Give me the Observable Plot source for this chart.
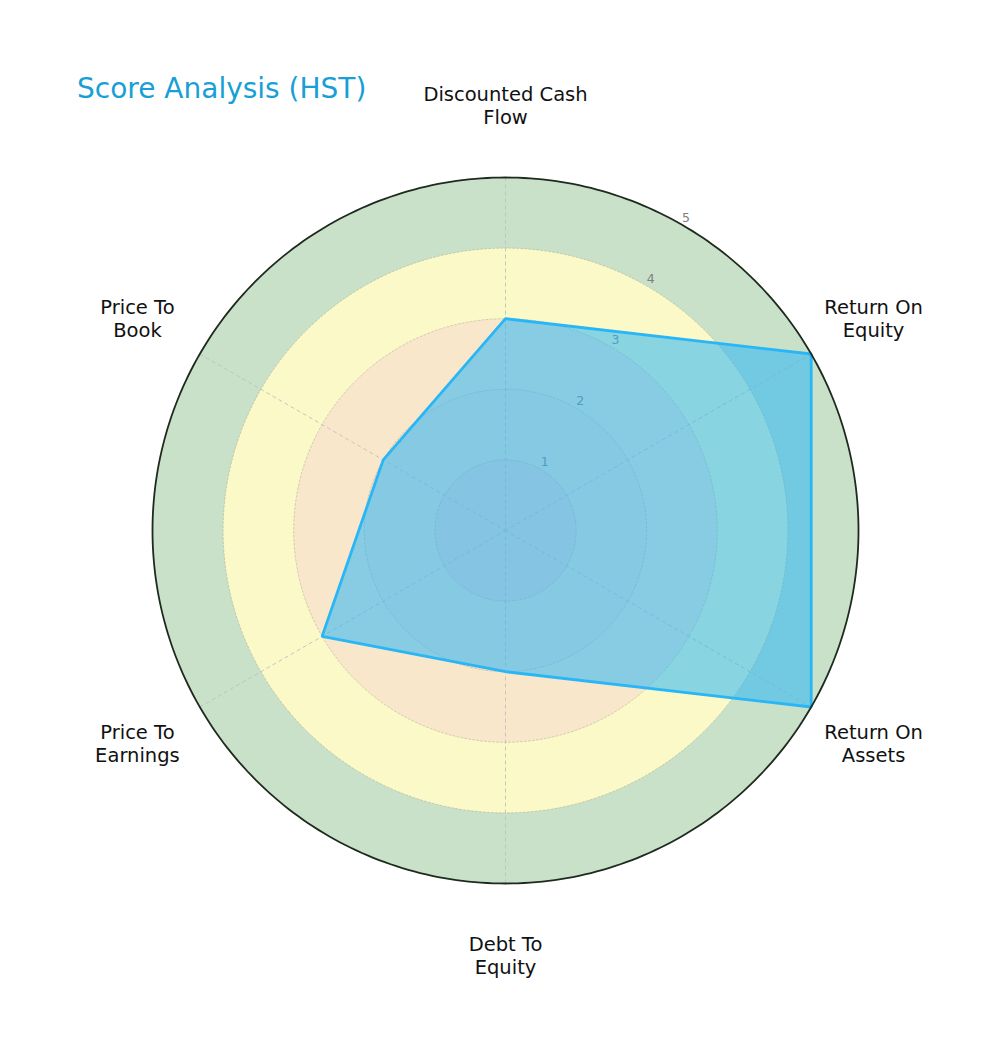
<!DOCTYPE html>
<html>
<head>
<meta charset="utf-8">
<script src="https://cdn.jsdelivr.net/npm/d3@7"></script>
<script src="https://cdn.jsdelivr.net/npm/@observablehq/plot@0.6"></script>
<style>
  html, body { margin: 0; padding: 0; background: #fff; }
  #wrap { position: relative; width: 1000px; height: 1052px; font-family: "DejaVu Sans", sans-serif; }
  #title { position: absolute; left: 77px; top: 71px; font-size: 28px; color: #179fd6; line-height: 36px; white-space: nowrap; }
  #chart { position: absolute; left: 0; top: 0; }
</style>
</head>
<body>
<div id="wrap">
  <div id="chart"></div>
  <div id="title">Score Analysis (HST)</div>
</div>
<script>
// ---- data ----
const categories = ["Discounted Cash Flow", "Return On Equity", "Return On Assets", "Debt To Equity", "Price To Earnings", "Price To Book"];
const categoryLabels = ["Discounted Cash\nFlow", "Return On\nEquity", "Return On\nAssets", "Debt To\nEquity", "Price To\nEarnings", "Price To\nBook"];
const scores = [3, 5, 5, 2, 3, 2];
const ringLevels = [5, 4, 3, 2, 1];
const ringColors = ["#c9e0c9", "#fbf9c8", "#f9e7cb", "#f7e0cc", "#f3d6cc"];
const tickValues = [1, 2, 3, 4, 5];
const maxScore = 5;

// ---- helpers ----
const DEG = 10; // degrees of arc per score unit
const lonOf = (i) => 180 - i * 60;
const latOf = (v) => 90 - v * DEG;
const circle = (r) => d3.geoCircle().center([0, 90]).radius(r * DEG).precision(1)();

const rows = categories.map((c, i) => ({cat: c, label: categoryLabels[i], value: scores[i], i}));
const bands = ringLevels.map((r, k) => ({r, color: ringColors[k]}));

const chart = Plot.plot({
  width: 1000,
  height: 1052,
  marginLeft: 152,
  marginRight: 142,
  marginTop: 177,
  marginBottom: 169,
  style: {fontFamily: "DejaVu Sans, sans-serif", background: "transparent", overflow: "visible"},
  projection: {
    type: "azimuthal-equidistant",
    rotate: [0, -90],
    domain: circle(maxScore),
    clip: false
  },
  marks: [
    Plot.geo(bands, {geometry: (d) => circle(d.r), fill: (d) => d.color, stroke: "none"}),
    Plot.geo(ringLevels.filter((r) => r < maxScore), {geometry: (r) => circle(r), fill: "none", stroke: "#a0a08a", strokeOpacity: 0.55, strokeWidth: 0.8, strokeDasharray: "2,2"}),
    Plot.link(rows, {x1: (d) => lonOf(d.i), y1: latOf(maxScore), x2: (d) => lonOf(d.i), y2: 90, stroke: "#c0c0c0", strokeWidth: 0.9, strokeDasharray: "4,3"}),
    Plot.text(tickValues, {x: 150, y: (d) => latOf(d), text: (d) => String(d), dx: 4, dy: -7, fill: "#808080", fontSize: 12.5}),
    Plot.line(rows, {x: (d) => lonOf(d.i), y: (d) => latOf(d.value), curve: "linear-closed", fill: "#29b6f6", fillOpacity: 0.55, stroke: "#29b6f6", strokeWidth: 2.8, strokeLinejoin: "miter"}),
    Plot.geo([maxScore], {geometry: (r) => circle(r), fill: "none", stroke: "#1e2a1e", strokeWidth: 1.8}),
    Plot.text(rows, {x: (d) => lonOf(d.i), y: latOf(6.02), text: "label", fontSize: 19.5, fill: "#111", lineHeight: 1.18, textAnchor: "middle"})
  ]
});
document.getElementById("chart").appendChild(chart);
</script>
</body>
</html>
